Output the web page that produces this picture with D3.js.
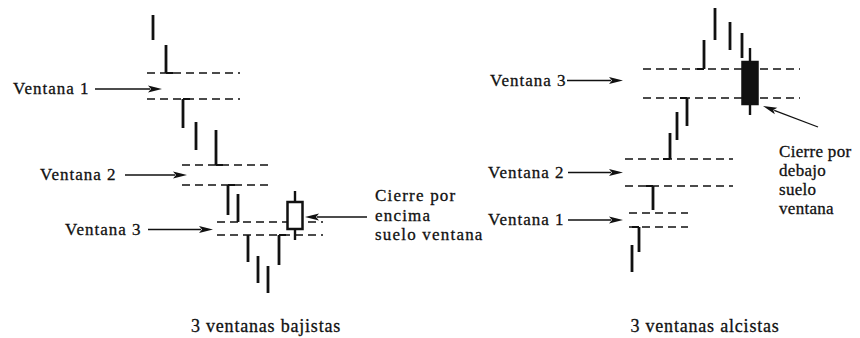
<!DOCTYPE html>
<html>
<head>
<meta charset="utf-8">
<script src="https://cdn.jsdelivr.net/npm/d3@7"></script>
<style>
body { margin: 0; background: #fff; }
text { font-family: "Liberation Serif", "Times New Roman", serif; fill: #111; stroke: #111; stroke-width: 0.3px; }
</style>
</head>
<body>
<svg id="chart" width="860" height="338"></svg>
<script>
// 3 ventanas bajistas (left)
const bearBars = [
  {day: 0.8, high: 285, low: 260},
  {day: 2.1, high: 255, low: 227, tick: 227, side: 1},
  {day: 3.8, high: 201, low: 172, tick: 201, side: 1},
  {day: 5.1, high: 178, low: 150},
  {day: 7.1, high: 170, low: 135, tick: 135, side: 1},
  {day: 8.3, high: 115, low: 85, tick: 115, side: 1},
  {day: 9.3, high: 106, low: 78},
  {day: 10.3, high: 65, low: 38},
  {day: 11.3, high: 44, low: 17},
  {day: 12.3, high: 34, low: 7},
  {day: 13.4, high: 65, low: 35, tick: 65, side: 1}
];
const bearCandle = {day: 15.0, open: 71, close: 98, high: 109, low: 60};
const bearWindows = [
  {name: "Ventana 1", top: 227, bottom: 201, from: 0.2, to: 9.5},
  {name: "Ventana 2", top: 135, bottom: 115, from: 3.7, to: 12.8},
  {name: "Ventana 3", top: 78, bottom: 65, from: 7.2, to: 17.8}
];
const bearNote = ["Cierre por", "encima", "suelo ventana"];
const bearTitle = "3 ventanas bajistas";

// 3 ventanas alcistas (right)
const bullBars = [
  {day: 1.2, high: 55, low: 28},
  {day: 1.9, high: 73, low: 48, tick: 73, side: -1},
  {day: 3.3, high: 114, low: 90, tick: 114, side: -1},
  {day: 5.0, high: 167, low: 141, tick: 141, side: -1},
  {day: 5.7, high: 188, low: 160},
  {day: 6.7, high: 202, low: 174, tick: 202, side: -1},
  {day: 8.4, high: 260, low: 231, tick: 231, side: -1},
  {day: 9.5, high: 292, low: 260},
  {day: 11.0, high: 278, low: 250},
  {day: 12.2, high: 267, low: 242}
];
const bullCandle = {day: 13.0, open: 238, close: 196, high: 252, low: 185};
const bullWindows = [
  {name: "Ventana 1", top: 87, bottom: 73, from: 0.9, to: 6.8},
  {name: "Ventana 2", top: 141, bottom: 114, from: 0.5, to: 11.3},
  {name: "Ventana 3", top: 231, bottom: 202, from: 2.3, to: 18.0}
];
const bullNote = ["Cierre por", "debajo", "suelo", "ventana"];
const bullTitle = "3 ventanas alcistas";

const svg = d3.select("#chart");
const y = d3.scaleLinear().domain([0, 300]).range([300, 0]);

const panels = [
  {
    bars: bearBars, candle: bearCandle, windows: bearWindows, note: bearNote, title: bearTitle,
    x: d3.scaleLinear().domain([0, 16]).range([145, 305]),
    labels: [{x: 13, from: 95, tip: 162, dy: 3}, {x: 40, from: 125, tip: 187, dy: 0}, {x: 65, from: 148, tip: 213, dy: 1}],
    noteAt: {x: 375, y: 201, step: 19.5, spacing: 1.2},
    noteArrow: {x1: 367, y1: 217, x2: 305, y2: 217},
    titleX: 266
  },
  {
    bars: bullBars, candle: bullCandle, windows: bullWindows, note: bullNote, title: bullTitle,
    x: d3.scaleLinear().domain([0, 16]).range([620, 780]),
    labels: [{x: 488, from: 568, tip: 623, dy: 0}, {x: 488, from: 568, tip: 623, dy: 0}, {x: 490, from: 567, tip: 623, dy: -3}],
    noteAt: {x: 779, y: 157, step: 19, spacing: 0.3},
    noteArrow: {x1: 818, y1: 127, x2: 763, y2: 106},
    titleX: 705
  }
];

function arrow(g, x1, y1, x2, y2) {
  const a = Math.atan2(y2 - y1, x2 - x1);
  const len = 14, half = 3.5;
  const bx = x2 - len * Math.cos(a), by = y2 - len * Math.sin(a);
  g.append("line")
    .attr("x1", x1).attr("y1", y1).attr("x2", bx + 2 * Math.cos(a)).attr("y2", by + 2 * Math.sin(a))
    .attr("stroke", "#111").attr("stroke-width", 1.3);
  g.append("path")
    .attr("d", `M${x2},${y2}L${bx - half * Math.sin(a)},${by + half * Math.cos(a)}L${bx + 3 * Math.cos(a)},${by + 3 * Math.sin(a)}L${bx + half * Math.sin(a)},${by - half * Math.cos(a)}Z`)
    .attr("fill", "#111");
}

panels.forEach(p => {
  const g = svg.append("g");
  const x = p.x;

  // window boundaries
  p.windows.forEach(w => {
    [w.top, w.bottom].forEach(level => {
      g.append("line")
        .attr("x1", x(w.from)).attr("x2", x(w.to))
        .attr("y1", y(level)).attr("y2", y(level))
        .attr("stroke", "#111").attr("stroke-width", 1.4)
        .attr("stroke-dasharray", "8,5");
    });
  });

  // bars
  g.selectAll("line.bar").data(p.bars).enter().append("line")
    .attr("class", "bar")
    .attr("x1", d => x(d.day)).attr("x2", d => x(d.day))
    .attr("y1", d => y(d.high)).attr("y2", d => y(d.low))
    .attr("stroke", "#111").attr("stroke-width", 2.8);

  g.selectAll("line.tick").data(p.bars.filter(d => d.tick !== undefined)).enter().append("line")
    .attr("class", "tick")
    .attr("x1", d => x(d.day)).attr("x2", d => x(d.day) + d.side * 7)
    .attr("y1", d => y(d.tick)).attr("y2", d => y(d.tick))
    .attr("stroke", "#111").attr("stroke-width", 2);

  // candle
  const c = p.candle;
  const bull = c.close > c.open;
  g.append("line")
    .attr("x1", x(c.day)).attr("x2", x(c.day))
    .attr("y1", y(c.high)).attr("y2", y(c.low))
    .attr("stroke", "#111").attr("stroke-width", 2.4);
  g.append("rect")
    .attr("x", x(c.day) - 7.5).attr("width", 15)
    .attr("y", y(Math.max(c.open, c.close)))
    .attr("height", y(Math.min(c.open, c.close)) - y(Math.max(c.open, c.close)))
    .attr("fill", bull ? "#fff" : "#111")
    .attr("stroke", "#111").attr("stroke-width", 2.5);

  // window labels with arrows
  p.windows.forEach((w, i) => {
    const l = p.labels[i];
    const ym = y((w.top + w.bottom) / 2) + l.dy;
    g.append("text")
      .attr("x", l.x).attr("y", ym + 5)
      .attr("font-size", 17).attr("letter-spacing", 1)
      .text(w.name);
    arrow(g, l.from, ym, l.tip, ym);
  });

  // note
  const nt = g.append("text")
    .attr("font-size", 17).attr("letter-spacing", p.noteAt.spacing);
  p.note.forEach((t, i) => {
    nt.append("tspan").attr("x", p.noteAt.x).attr("y", p.noteAt.y + i * p.noteAt.step).text(t);
  });
  arrow(g, p.noteArrow.x1, p.noteArrow.y1, p.noteArrow.x2, p.noteArrow.y2);

  g.append("text")
    .attr("x", p.titleX).attr("y", 332)
    .attr("text-anchor", "middle")
    .attr("font-size", 18).attr("letter-spacing", 0.8)
    .text(p.title);
});
</script>
</body>
</html>
